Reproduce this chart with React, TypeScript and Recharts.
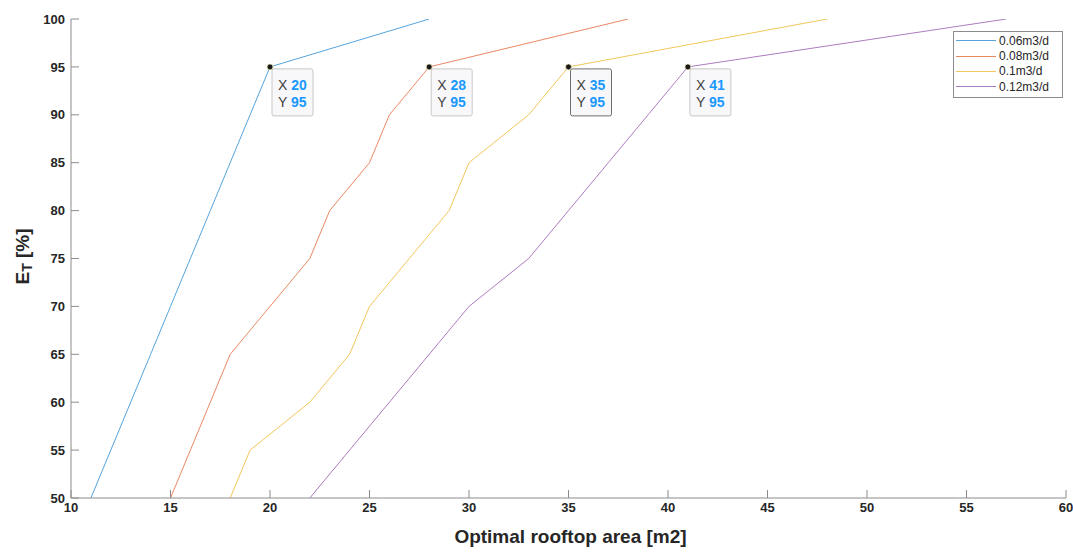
import React from 'react';
import { LineChart, Line, XAxis, YAxis, Legend } from 'recharts';

// E_T levels shared by every curve
const ET_LEVELS = [50, 55, 60, 65, 70, 75, 80, 85, 90, 95, 100];

// optimal rooftop area [m2] per E_T level, one list per demand
const AREA_006 = [11, 12, 13, 14, 15, 16, 17, 18, 19, 20, 28];
const AREA_008 = [15, 16, 17, 18, 20, 22, 23, 25, 26, 28, 38];
const AREA_010 = [18, 19, 22, 24, 25, 27, 29, 30, 33, 35, 48];
const AREA_012 = [22, 24, 26, 28, 30, 33, 35, 37, 39, 41, 57];

const SERIES_NAMES = ['0.06m3/d', '0.08m3/d', '0.1m3/d', '0.12m3/d'];

// data tips shown on each curve
const TIP_AREAS = [20, 28, 35, 41];
const TIP_ET = 95;

const X_TICKS = [10, 15, 20, 25, 30, 35, 40, 45, 50, 55, 60];
const Y_TICKS = [50, 55, 60, 65, 70, 75, 80, 85, 90, 95, 100];

const COLORS = ['#55a4dc', '#ea8864', '#f3c65c', '#ad7bc2'];
const AXIS_COLOR = '#8c8c8c';
const TEXT_COLOR = '#262626';
const FONT = '"Liberation Sans", Arial, sans-serif';

const SERIES = [AREA_006, AREA_008, AREA_010, AREA_012].map((areas, i) => ({
  name: SERIES_NAMES[i],
  color: COLORS[i],
  tip: TIP_AREAS[i],
  points: areas.map((a, j) => ({ area: a, et: ET_LEVELS[j] })),
}));

const makeDot = (tip: number, selected: boolean) => (props: any) => {
  const { cx, cy, payload, index } = props;
  if (payload.area !== tip || payload.et !== TIP_ET) return <g key={`d-${index}`} />;
  return (
    <g key={`d-${index}`}>
      <rect
        x={cx + 2}
        y={cy + 2}
        width={41}
        height={47}
        rx={2}
        fill="#f8f8fb"
        stroke={selected ? '#6e6e6e' : '#c8c8c8'}
        strokeWidth={1}
      />
      <text x={cx + 8} y={cy + 23} fontFamily={FONT} fontSize={14} fill="#404040">
        X <tspan fontWeight="bold" fill="#1a98ff">{payload.area}</tspan>
      </text>
      <text x={cx + 8} y={cy + 40} fontFamily={FONT} fontSize={14} fill="#404040">
        Y <tspan fontWeight="bold" fill="#1a98ff">{payload.et}</tspan>
      </text>
      <circle cx={cx} cy={cy} r={3} fill="#1a1a1a" stroke="#f3efc0" strokeWidth={0.8} />
    </g>
  );
};

const renderLegend = () => (
  <div
    style={{
      border: `1px solid ${AXIS_COLOR}`,
      background: '#fff',
      width: 108,
      padding: '1px 0 2px 0',
      fontFamily: FONT,
      fontSize: 12,
      color: TEXT_COLOR,
    }}
  >
    {SERIES.map((s) => (
      <div key={s.name} style={{ display: 'flex', alignItems: 'center', height: 15.4 }}>
        <span
          style={{
            display: 'inline-block',
            width: 40,
            height: 0,
            borderTop: `1px solid ${s.color}`,
            marginLeft: 2,
            marginRight: 3,
          }}
        />
        <span>{s.name}</span>
      </div>
    ))}
  </div>
);

const YLabel = ({ viewBox }: any) => {
  const x = viewBox.x + 22;
  const y = viewBox.y + viewBox.height / 2 - 2;
  return (
    <text
      x={x}
      y={y}
      transform={`rotate(-90, ${x}, ${y})`}
      textAnchor="middle"
      fontFamily={FONT}
      fontWeight="bold"
      fontSize={19}
      fill={TEXT_COLOR}
      dominantBaseline="central"
    >
      E<tspan fontSize={14} dy={5}>T</tspan>
      <tspan dy={-5}> [%]</tspan>
    </text>
  );
};

const XLabel = ({ viewBox }: any) => (
  <text
    x={viewBox.x + viewBox.width / 2 + 2}
    y={viewBox.y + 45}
    textAnchor="middle"
    fontFamily={FONT}
    fontWeight="bold"
    fontSize={19}
    fill={TEXT_COLOR}
  >
    Optimal rooftop area [m2]
  </text>
);

const tickStyle = { fontFamily: FONT, fontSize: 13, fontWeight: 'bold', fill: TEXT_COLOR };

export default function App() {
  return (
    <div style={{ position: 'absolute', left: 0, top: 0, background: '#fff' }}>
      <LineChart width={1073} height={552} margin={{ top: 19, right: 7, bottom: 0, left: 0 }}>
        <XAxis
          xAxisId="bottom"
          type="number"
          dataKey="area"
          domain={[10, 60]}
          ticks={X_TICKS}
          allowDataOverflow
          height={54}
          stroke={AXIS_COLOR}
          tickSize={-8}
          tickMargin={13}
          tick={tickStyle}
          label={<XLabel />}
        />
        <XAxis
          xAxisId="top"
          orientation="top"
          type="number"
          dataKey="area"
          domain={[10, 60]}
          ticks={X_TICKS}
          allowDataOverflow
          height={0}
          stroke={AXIS_COLOR}
          tickSize={-8}
          tick={false}
        />
        <YAxis
          yAxisId="left"
          type="number"
          domain={[50, 100]}
          ticks={Y_TICKS}
          allowDataOverflow
          width={71}
          stroke={AXIS_COLOR}
          tickSize={-8}
          tickMargin={14}
          tick={tickStyle}
          label={<YLabel />}
        />
        <YAxis
          yAxisId="right"
          orientation="right"
          type="number"
          domain={[50, 100]}
          ticks={Y_TICKS}
          allowDataOverflow
          width={0}
          stroke={AXIS_COLOR}
          tickSize={-8}
          tick={false}
        />
        {SERIES.map((s, i) => (
          <Line
            key={s.name}
            name={s.name}
            data={s.points}
            dataKey="et"
            xAxisId="bottom"
            yAxisId="left"
            type="linear"
            stroke={s.color}
            strokeWidth={1}
            dot={makeDot(s.tip, i === 2)}
            activeDot={false}
            isAnimationActive={false}
          />
        ))}
        <Legend
          layout="vertical"
          align="center"
          verticalAlign="middle"
          content={renderLegend}
          wrapperStyle={{ left: 953, top: 31, width: 110, height: 'auto', bottom: 'auto' }}
        />
      </LineChart>
    </div>
  );
}
